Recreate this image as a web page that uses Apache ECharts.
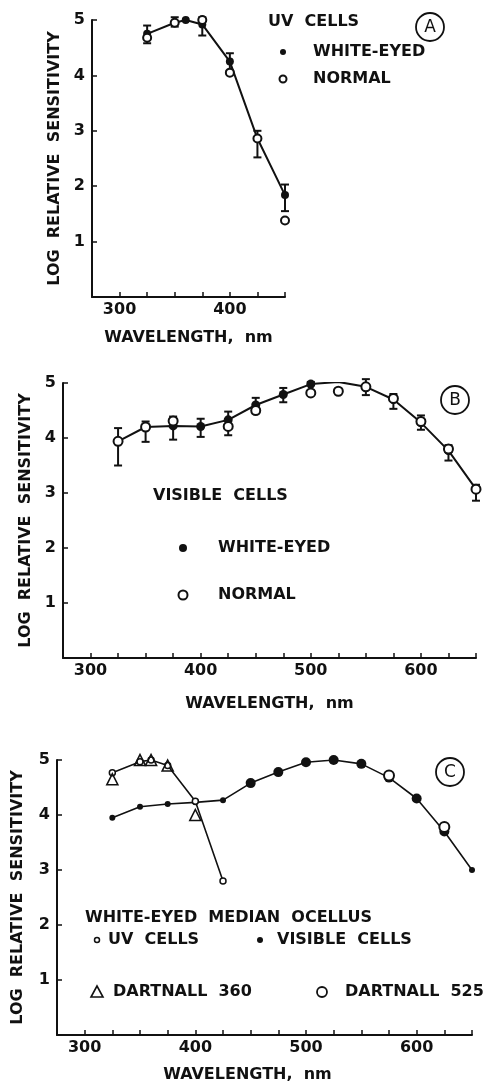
<!DOCTYPE html>
<html>
<head>
<meta charset="utf-8">
<script src="https://cdn.jsdelivr.net/npm/echarts@6/dist/echarts.min.js"></script>
<style>
html, body { margin: 0; padding: 0; background: #fff; }
#chart { width: 494px; height: 1084px; }
</style>
</head>
<body>
<div id="chart"></div>
<script>
// panel A - UV cells
const waveA = [325, 350, 360, 375, 400, 425, 450]
const whiteA = [4.75, 4.95, 5.0, 4.92, 4.25, 2.86, 1.84]
const normalA = [4.68, 4.95, null, 5.0, 4.05, 2.86, 1.38]
const errLowA = [4.58, 4.88, null, 4.72, 4.08, 2.52, 1.55]
const errHighA = [4.9, 5.05, null, 5.05, 4.4, 3.0, 2.03]

// panel B - visible cells
const waveB = [325, 350, 375, 400, 425, 450, 475, 500, 525, 550, 575, 600, 625, 650]
const whiteB = [3.94, 4.2, 4.22, 4.21, 4.33, 4.6, 4.79, 4.98, 5.02, 4.93, 4.7, 4.28, 3.77, 3.07]
const normalB = [3.94, 4.2, 4.31, null, 4.21, 4.5, null, 4.82, 4.85, 4.93, 4.72, 4.3, 3.8, 3.07]
const errLowB = [3.5, 3.93, 3.97, 4.02, 4.05, 4.45, 4.65, 4.96, null, 4.78, 4.53, 4.15, 3.59, 2.86]
const errHighB = [4.18, 4.3, 4.39, 4.35, 4.48, 4.73, 4.91, 5.02, null, 5.07, 4.8, 4.41, 3.87, 3.15]

// panel C - white-eyed median ocellus
const uvWaveC = [325, 350, 360, 375, 400, 425]
const uvC = [4.77, 4.97, 5.0, 4.9, 4.25, 2.8]
const visWaveC = [325, 350, 375, 400, 425, 450, 475, 500, 525, 550, 575, 600, 625, 650]
const visC = [3.95, 4.15, 4.2, 4.23, 4.27, 4.58, 4.78, 4.96, 5.0, 4.93, 4.68, 4.3, 3.7, 3.0]
const d360Wave = [325, 350, 360, 375, 400]
const d360 = [4.65, 5.0, 5.0, 4.9, 4.0]
const d525Wave = [575, 625]
const d525 = [4.72, 3.78]

const FONT = 'DejaVu Sans'
const INK = '#111'

function pairs(xs, ys) {
  return xs.map((x, i) => [x, ys[i]]).filter(p => p[1] != null)
}
function errData(xs, lo, hi) {
  return xs.map((x, i) => [x, lo[i], hi[i]]).filter(p => p[1] != null)
}

function renderErr(params, api) {
  let x = api.value(0)
  let p1 = api.coord([x, api.value(1)])
  let p2 = api.coord([x, api.value(2)])
  let w = 4
  let st = {stroke: INK, lineWidth: 2}
  return {
    type: 'group',
    children: [
      {type: 'line', shape: {x1: p1[0], y1: p1[1], x2: p2[0], y2: p2[1]}, style: st},
      {type: 'line', shape: {x1: p1[0] - w, y1: p1[1], x2: p1[0] + w, y2: p1[1]}, style: st},
      {type: 'line', shape: {x1: p2[0] - w, y1: p2[1], x2: p2[0] + w, y2: p2[1]}, style: st}
    ]
  }
}

function xAx(idx, max, gap, pad) {
  return {
    type: 'value', gridIndex: idx, min: 275, max: max, interval: 25,
    name: 'WAVELENGTH,  nm', nameLocation: 'middle', nameGap: gap,
    nameTextStyle: {color: INK, fontFamily: FONT, fontWeight: 'bold', fontSize: 16, padding: pad || 0},
    axisLine: {lineStyle: {color: INK, width: 2}},
    axisTick: {inside: true, length: 5, lineStyle: {color: INK, width: 1.5}},
    axisLabel: {
      color: INK, fontFamily: FONT, fontWeight: 'bold', fontSize: 16, margin: 5,
      formatter: v => (v % 100 === 0 ? String(v) : '')
    },
    splitLine: {show: false}
  }
}
function yAx(idx, gap) {
  return {
    type: 'value', gridIndex: idx, min: 0, max: 5, interval: 1,
    name: 'LOG  RELATIVE  SENSITIVITY', nameLocation: 'middle', nameGap: gap,
    nameTextStyle: {color: INK, fontFamily: FONT, fontWeight: 'bold', fontSize: 16},
    axisLine: {show: true, lineStyle: {color: INK, width: 2}},
    axisTick: {show: true, inside: true, length: 5, lineStyle: {color: INK, width: 1.5}},
    axisLabel: {
      color: INK, fontFamily: FONT, fontWeight: 'bold', fontSize: 16, margin: 7,
      formatter: v => (v === 0 ? '' : String(v))
    },
    splitLine: {show: false}
  }
}

function txt(x, y, s, size, align) {
  return {
    type: 'text', x: x, y: y,
    style: {text: s, fill: INK, font: 'bold ' + (size || 16) + 'px "' + FONT + '"', align: align || 'left', verticalAlign: 'middle'}
  }
}
function dot(x, y, r) {
  return {type: 'circle', shape: {cx: x, cy: y, r: r}, style: {fill: INK}}
}
function ring(x, y, r, lw) {
  return {type: 'circle', shape: {cx: x, cy: y, r: r}, style: {fill: '#fff', stroke: INK, lineWidth: lw || 2}}
}
function circled(x, y, s) {
  return {
    type: 'group', children: [
      {type: 'circle', shape: {cx: x, cy: y, r: 14}, style: {fill: 'none', stroke: INK, lineWidth: 1.8}},
      {type: 'text', x: x, y: y + 1, style: {text: s, fill: INK, font: '17px "' + FONT + '"', align: 'center', verticalAlign: 'middle'}}
    ]
  }
}

const chart = echarts.init(document.getElementById('chart'), null, {renderer: 'canvas'})

const lineBase = {type: 'line', lineStyle: {color: INK, width: 2}, itemStyle: {color: INK, opacity: 1}, animation: false, z: 3}
const openBase = {type: 'scatter', symbol: 'circle', itemStyle: {color: '#fff', borderColor: INK, borderWidth: 2, opacity: 1}, animation: false, z: 4}

const option = {
  backgroundColor: '#fff',
  animation: false,
  grid: [
    {left: 92, top: 20, width: 193, height: 277},
    {left: 63, top: 383, width: 413, height: 275},
    {left: 57, top: 760, width: 415, height: 275}
  ],
  xAxis: [xAx(0, 450, 33), xAx(1, 650, 38), xAx(2, 650, 32, [0, 34, 0, 0])],
  yAxis: [yAx(0, 29), yAx(1, 25), yAx(2, 31)],
  series: [
    // A
    {type: 'custom', xAxisIndex: 0, yAxisIndex: 0, renderItem: renderErr, data: errData(waveA, errLowA, errHighA), z: 2},
    Object.assign({}, lineBase, {xAxisIndex: 0, yAxisIndex: 0, symbol: 'circle', symbolSize: 8, data: pairs(waveA, whiteA)}),
    Object.assign({}, openBase, {xAxisIndex: 0, yAxisIndex: 0, symbolSize: 8, data: pairs(waveA, normalA)}),
    // B
    {type: 'custom', xAxisIndex: 1, yAxisIndex: 1, renderItem: renderErr, data: errData(waveB, errLowB, errHighB), z: 2},
    Object.assign({}, lineBase, {xAxisIndex: 1, yAxisIndex: 1, symbol: 'circle', symbolSize: 9, data: pairs(waveB, whiteB)}),
    Object.assign({}, openBase, {xAxisIndex: 1, yAxisIndex: 1, symbolSize: 9, data: pairs(waveB, normalB)}),
    // C
    Object.assign({}, lineBase, {
      xAxisIndex: 2, yAxisIndex: 2, lineStyle: {color: INK, width: 1.6},
      symbol: 'circle', symbolSize: v => (v[0] >= 450 && v[0] <= 625 ? 10 : 6),
      data: pairs(visWaveC, visC)
    }),
    Object.assign({}, lineBase, {
      xAxisIndex: 2, yAxisIndex: 2, lineStyle: {color: INK, width: 1.6},
      symbol: 'circle', symbolSize: 6, itemStyle: {color: '#fff', borderColor: INK, borderWidth: 1.5, opacity: 1},
      data: pairs(uvWaveC, uvC)
    }),
    {
      type: 'scatter', xAxisIndex: 2, yAxisIndex: 2, symbol: 'triangle', symbolSize: 11,
      itemStyle: {color: 'rgba(255,255,255,0)', borderColor: INK, borderWidth: 1.6, opacity: 1}, z: 5,
      data: pairs(d360Wave, d360)
    },
    Object.assign({}, openBase, {xAxisIndex: 2, yAxisIndex: 2, symbolSize: 10, z: 5, data: pairs(d525Wave, d525)})
  ],
  graphic: [
    // A legend
    txt(268, 22, 'UV  CELLS'),
    circled(430, 27, 'A'),
    dot(283, 52, 3),
    txt(313, 52, 'WHITE-EYED'),
    ring(283, 79, 3.5),
    txt(313, 79, 'NORMAL'),
    // B legend
    txt(153, 496, 'VISIBLE  CELLS'),
    circled(455, 400, 'B'),
    dot(183, 548, 4),
    txt(218, 548, 'WHITE-EYED'),
    ring(183, 595, 4.5),
    txt(218, 595, 'NORMAL'),
    // C legend
    txt(85, 918, 'WHITE-EYED  MEDIAN  OCELLUS'),
    circled(450, 772, 'C'),
    ring(97, 940, 2.5, 1.5),
    txt(108, 940, 'UV  CELLS'),
    dot(260, 940, 3),
    txt(277, 940, 'VISIBLE  CELLS'),
    {type: 'polygon', shape: {points: [[97, 986], [91, 997], [103, 997]]}, style: {fill: 'none', stroke: INK, lineWidth: 1.6}},
    txt(113, 992, 'DARTNALL  360'),
    ring(322, 992, 5, 1.8),
    txt(345, 992, 'DARTNALL  525')
  ]
}
chart.setOption(option)
</script>
</body>
</html>
